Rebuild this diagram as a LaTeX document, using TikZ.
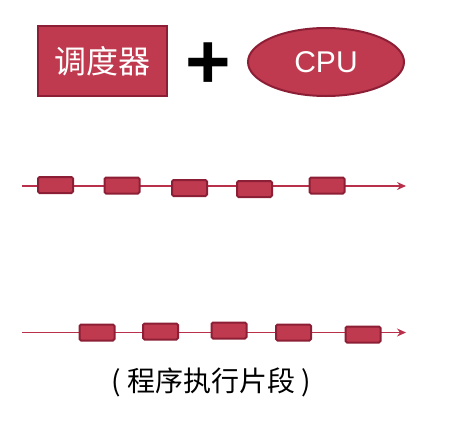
\documentclass[tikz,border=0pt]{standalone}
\usepackage{fontspec}
\setmainfont{Liberation Sans}
\newfontfamily\cjk{Noto Sans CJK SC}
\usetikzlibrary{arrows.meta,shapes.geometric}
\definecolor{segfill}{HTML}{BF3A4F}
\definecolor{segdraw}{HTML}{8C1F35}
\definecolor{linecol}{HTML}{B8304A}
\tikzset{
  seg/.style={draw=segdraw, fill=segfill, line width=2pt, rounded corners=1.5pt,
    minimum width=35pt, minimum height=16pt, inner sep=0pt},
  timeline/.style={draw=linecol, line width=1.1pt, -{Stealth[length=9pt,width=8pt,inset=3pt]}}
}
\begin{document}
\begin{tikzpicture}[x=1pt,y=-1pt]
\useasboundingbox[fill=white] (0,0) rectangle (470,426);
% top row
\node[draw=segdraw, fill=segfill, line width=2pt, minimum width=129pt, minimum height=70pt, inner sep=0pt,
  text=white, font=\cjk\fontsize{32}{36}\selectfont] (sched) at (102.5,61) {调度器};
\node[inner sep=0pt, anchor=base, font=\bfseries\fontsize{78}{84}\selectfont] (plus) at (208.5,88) {+};
\node[ellipse, draw=segdraw, fill=segfill, line width=2pt, minimum width=156pt, minimum height=68pt, inner sep=0pt,
  text=white, font=\fontsize{30}{34}\selectfont] (cpu) at (326,62) {CPU};
% timeline 1
\coordinate (a0) at (22,186);
\coordinate (a9) at (406,186);
\draw[timeline] (a0) -- (a9);
\node[seg] (a1) at (55.5,185) {};
\node[seg] (a2) at (122,185.5) {};
\node[seg] (a3) at (189.5,188) {};
\node[seg] (a4) at (254.5,189) {};
\node[seg] (a5) at (327,185.5) {};
% timeline 2
\coordinate (b0) at (22,332.5);
\coordinate (b9) at (406,332.5);
\draw[timeline] (b0) -- (b9);
\node[seg] (b1) at (97,332.5) {};
\node[seg] (b2) at (160.5,331.5) {};
\node[seg] (b3) at (229,330.5) {};
\node[seg] (b4) at (293.5,332.5) {};
\node[seg] (b5) at (363,334.5) {};
% caption
\node[font=\cjk\fontsize{28}{32}\selectfont, inner sep=0pt] (cap) at (211,382) {(~程序执行片段~)};
\end{tikzpicture}
\end{document}
